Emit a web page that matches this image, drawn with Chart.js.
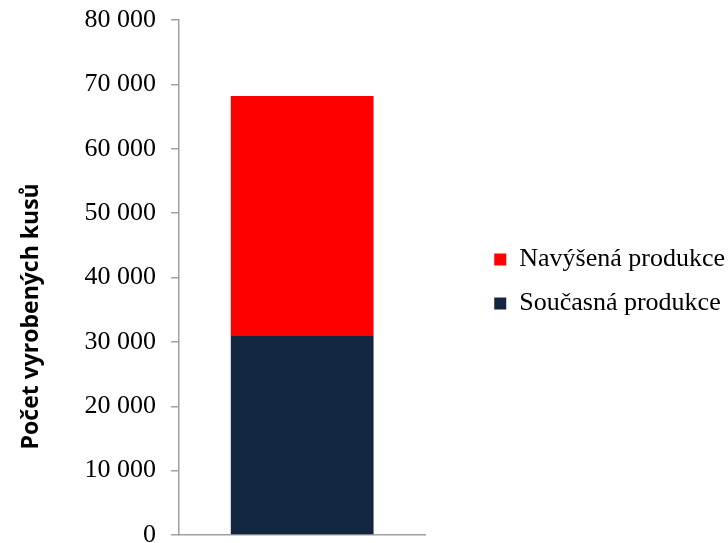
<!DOCTYPE html>
<html>
<head>
<meta charset="utf-8">
<script src="https://cdn.jsdelivr.net/npm/chart.js@4/dist/chart.umd.min.js"></script>
<style>
  html, body { margin: 0; padding: 0; background: #fff; }
  #wrap { width: 728px; height: 543px; }
</style>
</head>
<body>
<div id="wrap"><canvas id="myChart" width="728" height="543"></canvas></div>
<script>
var categories = [''];
var soucasna = [30900];   // Současná produkce (spodní část)
var navysena = [37300];   // Navýšená produkce (přírůstek, vrchol ~68 200)
var seriesNames = ['Současná produkce', 'Navýšená produkce'];
var seriesColors = ['#12263f', '#ff0000'];
var yMax = 80000;
var yStep = 10000;
var yTitle = 'Počet vyrobených kusů';

var serif = '"Liberation Serif", "Times New Roman", serif';
var axisColor = '#a0a0a0';

// posune legendu doprava, aby byla mezera mezi grafem a legendou
var legendShift = {
    id: 'legendShift',
    afterLayout: function (chart) {
        chart.legend.left += 51;
        chart.legend.right += 51;
    }
};

var ctx = document.getElementById('myChart');
var myChart = new Chart(ctx, {
    type: 'bar',
    data: {
        labels: categories,
        datasets: [{
            label: seriesNames[0],
            data: soucasna,
            backgroundColor: seriesColors[0],
            borderWidth: 0
        }, {
            label: seriesNames[1],
            data: navysena,
            backgroundColor: seriesColors[1],
            borderWidth: 0
        }]
    },
    options: {
        responsive: false,
        animation: false,
        layout: { padding: { left: 14, right: 44, top: 20, bottom: 0 } },
        datasets: { bar: { categoryPercentage: 1, barPercentage: 0.58 } },
        plugins: {
            legend: {
                position: 'right',
                reverse: true,
                maxWidth: 320,
                labels: {
                    boxWidth: 12,
                    boxHeight: 12,
                    padding: 18,
                    color: '#000',
                    font: { family: serif, size: 26 }
                }
            },
            tooltip: { enabled: false }
        },
        scales: {
            x: {
                stacked: true,
                grid: { display: false },
                border: { display: true, color: axisColor, width: 1.5 },
                ticks: { display: false }
            },
            y: {
                stacked: true,
                min: 0,
                max: yMax,
                afterFit: function (scale) {
                    scale.paddingTop = 0;
                    scale.paddingBottom = 0;
                },
                grid: { drawOnChartArea: false, drawTicks: true, tickLength: 8, color: axisColor, lineWidth: 1.5 },
                border: { display: true, color: axisColor, width: 1.5 },
                ticks: {
                    stepSize: yStep,
                    padding: 15,
                    color: '#000',
                    font: { family: serif, size: 26 },
                    callback: function (v) {
                        return v.toLocaleString('cs-CZ').replace(/\s/g, ' ');
                    }
                },
                title: {
                    display: true,
                    // mezery na konci posunou nadpis níž, jako v originálu
                    text: yTitle + '\u00a0'.repeat(13),
                    color: '#000',
                    padding: { top: 4, bottom: 24 },
                    font: { family: '"Open Sans", sans-serif', size: 23, weight: 'bold' }
                }
            }
        }
    },
    plugins: [legendShift]
});
</script>
</body>
</html>
